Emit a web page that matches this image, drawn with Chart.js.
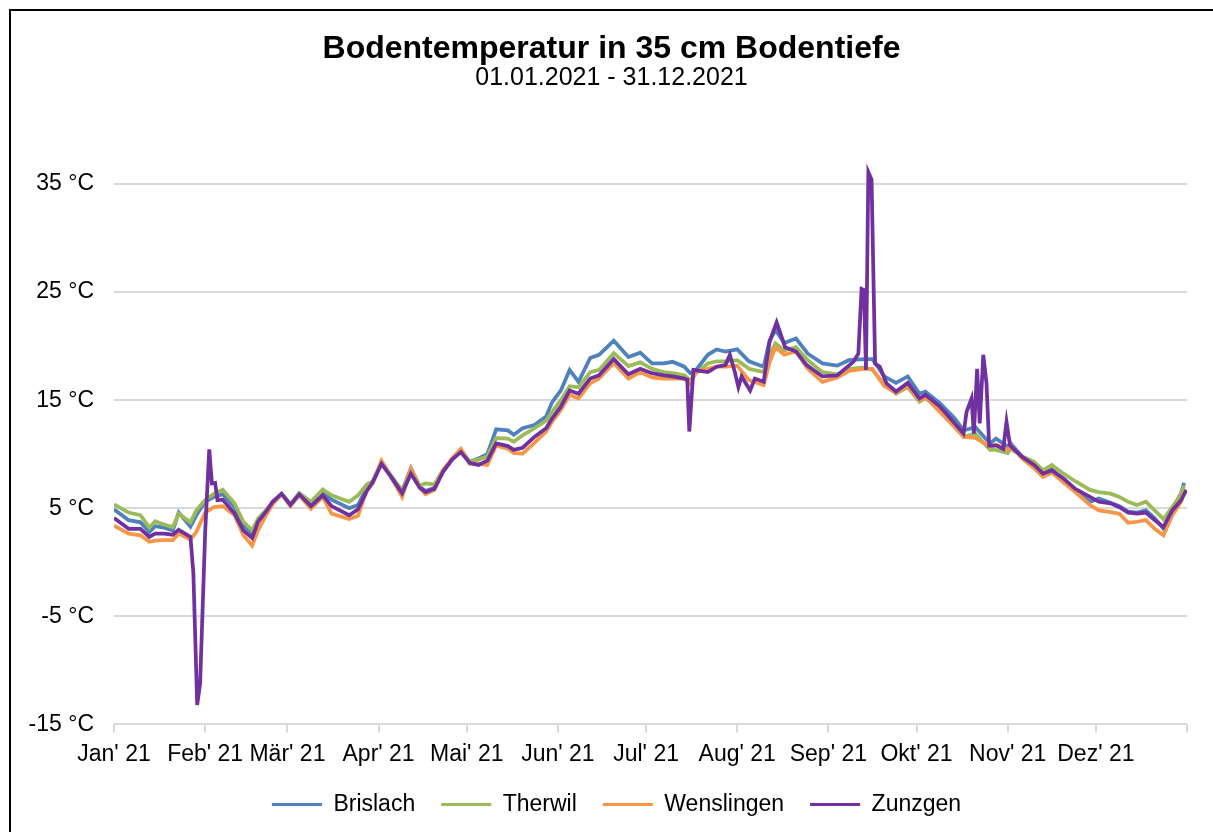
<!DOCTYPE html>
<html lang="de">
<head>
  <meta charset="UTF-8" />
  <title>Bodentemperatur in 35 cm Bodentiefe</title>
  <script src="https://cdn.jsdelivr.net/npm/chart.js"></script>
  <style>
    html, body { margin: 0; padding: 0; background: #fff; overflow: hidden; }
    #wrap { position: relative; width: 1213px; height: 832px; }
    #frame {
      position: absolute; left: 9px; top: 9px;
      width: 1300px; height: 900px;
      border: 2px solid #000; pointer-events: none;
    }
  </style>
</head>
<body>
<div id="wrap">
  <canvas id="chart" width="1213" height="832"></canvas>
  <div id="frame"></div>
</div>
<script>
  // day of year (0 = 1 Jan 2021)
  const days = [0,5,9,12,14,17,20,22,26,28,
    31,34,37,41,44,47,49,52,54,57,
    60,63,67,71,74,80,83,86,88,91,
    94,98,101,104,106,109,112,115,118,121,
    124,127,130,134,136,139,143,147,149,152,
    155,158,162,165,170,175,179,183,187,190,
    194,196,198,202,205,208,212,216,221,223,
    225,228,232,236,241,246,250,255,258,262,
    266,270,274,276,281,286,289,293,298,300,
    304,305,309,313,316,319,323,327,332,335,
    339,342,345,348,351,354,357,360,363,364];

  const brislach = [4.9,3.9,3.7,2.8,3.35,3.2,2.95,4.6,3.3,4.35,
    5.6,6.05,6.3,5.1,3.45,2.65,3.9,4.8,5.6,6.3,
    5.4,6.3,5.3,6.4,5.8,5.0,5.3,6.9,7.4,9.3,
    8.1,6.6,8.7,7.0,6.6,6.9,8.5,9.5,10.4,9.3,
    9.6,10.0,12.3,12.2,11.8,12.4,12.7,13.5,14.8,15.9,
    17.8,16.7,18.9,19.2,20.5,19.0,19.4,18.4,18.4,18.55,
    18.1,17.5,17.8,19.2,19.7,19.5,19.7,18.6,18.1,20.5,
    21.5,20.3,20.7,19.3,18.4,18.2,18.7,18.8,18.8,17.2,
    16.6,17.2,15.6,15.8,14.7,13.3,12.2,12.5,11.0,11.45,
    10.7,11.0,9.75,9.0,8.2,8.6,7.6,6.6,5.6,5.9,
    5.5,5.2,4.7,4.6,4.8,4.1,3.1,4.9,6.4,7.35];

  const therwil = [5.35,4.6,4.35,3.2,3.8,3.5,3.25,4.5,3.7,4.8,
    5.75,6.35,6.7,5.45,3.75,2.95,4.05,4.9,5.6,6.35,
    5.4,6.4,5.6,6.75,6.2,5.6,6.2,7.2,7.5,9.3,
    8.1,6.6,8.6,7.1,7.3,7.2,8.6,9.5,10.4,9.3,
    9.5,9.8,11.5,11.45,11.15,11.75,12.4,13.1,13.9,15.0,
    16.3,16.2,17.6,17.8,19.35,18.15,18.5,17.9,17.6,17.5,
    17.3,16.85,17.5,18.4,18.6,18.6,18.7,17.9,17.6,19.2,
    20.25,19.6,19.9,18.7,17.6,17.4,17.9,18.0,17.8,16.5,
    15.6,16.2,14.85,15.2,14.1,12.9,11.6,11.9,10.4,10.4,
    10.1,10.5,9.8,9.3,8.5,9.0,8.2,7.5,6.7,6.5,
    6.35,6.05,5.6,5.3,5.6,4.8,4.0,5.1,6.3,7.1];

  const wenslingen = [3.4,2.65,2.5,1.9,2.0,2.05,2.05,2.65,2.1,2.8,
    4.6,5.1,5.2,4.35,2.5,1.55,2.95,4.5,5.4,6.3,
    5.2,6.2,4.95,6.05,4.5,4.0,4.3,6.7,7.3,9.4,
    8.0,6.05,8.6,6.9,6.3,6.7,8.5,9.6,10.5,9.1,
    9.1,9.0,10.8,10.5,10.1,10.05,11.05,12.1,13.0,14.1,
    15.5,15.15,16.55,17.0,18.45,17.0,17.6,17.1,17.0,17.0,
    17.0,16.5,17.6,17.9,18.1,18.1,18.2,16.85,16.4,18.5,
    19.9,19.2,19.5,17.9,16.7,17.1,17.7,17.9,17.9,16.3,
    15.7,16.3,15.0,15.3,13.9,12.5,11.6,11.5,10.7,10.9,
    10.4,10.8,9.6,8.7,7.9,8.3,7.4,6.5,5.3,4.8,
    4.65,4.5,3.65,3.75,3.9,3.1,2.5,4.35,5.6,6.6];

  // Zunzgen has its own sampling because of the sensor spikes
  const zunzgenDays = [0,5,9,12,14,17,20,22,26,27,
    28.3,29.3,31,32.4,33.3,34.4,35.2,37,41,44,
    47,49,52,54,57,60,63,67,71,74,
    80,83,86,88,91,94,98,101,104,106,
    109,112,115,118,121,124,127,130,134,136,
    139,143,147,149,152,155,158,162,165,170,
    175,179,183,187,190,194,195,195.7,197.1,202,
    205,208,209.5,211,212.4,213.5,216.4,218,221,223,
    225.4,228.3,232,235.6,241,246,251.5,253.2,254.3,255.1,
    255.8,256.6,257.7,258.9,260.5,262.8,266,270,274,276,
    281,285.5,289,290,291.7,292.5,293.6,294.5,295.7,296.8,
    297.7,300.2,302.5,303.6,304.8,309,313,316,319,323,
    327,332,335,339,342,345,348,351,354,357,
    360,363,364.8];

  const zunzgen = [4.1,3.1,3.1,2.35,2.65,2.65,2.55,3.0,2.35,-1.0,
    -13.2,-11.2,2.7,10.45,7.3,7.35,5.75,5.8,4.5,2.95,
    2.25,3.75,4.8,5.6,6.35,5.3,6.3,5.2,6.2,5.2,
    4.35,4.9,6.6,7.4,9.1,8.0,6.4,8.2,6.9,6.5,
    6.8,8.4,9.5,10.2,9.2,9.0,9.4,11.0,10.75,10.4,
    10.6,11.6,12.4,13.3,14.4,15.9,15.6,17.0,17.3,18.8,
    17.4,17.9,17.5,17.3,17.2,17.0,16.9,12.1,17.8,17.6,
    18.1,18.25,19.2,17.8,16.2,17.2,15.9,17.0,16.7,20.4,
    22.2,19.9,19.5,18.25,17.2,17.3,18.55,19.3,25.3,25.2,
    17.8,36.1,35.4,18.4,18.1,16.55,15.8,16.6,15.15,15.5,
    14.4,13.0,11.9,13.9,15.15,11.9,17.9,12.85,19.2,16.55,
    10.8,10.8,10.5,13.0,10.8,9.75,9.0,8.2,8.5,7.75,
    6.8,6.05,5.6,5.45,5.1,4.6,4.5,4.6,3.9,3.25,
    4.8,5.75,6.7];

  const monthStarts = [0,31,59,90,120,151,181,212,243,273,304,334,365];
  const monthLabels = ["Jan' 21","Feb' 21","Mär' 21","Apr' 21","Mai' 21","Jun' 21",
    "Jul' 21","Aug' 21","Sep' 21","Okt' 21","Nov' 21","Dez' 21",""];
  const yTicks = [-15,-5,5,15,25,35];

  function series(label, xs, ys, color, order) {
    return {
      label: label,
      data: xs.map((d, i) => ({ x: d, y: ys[i] })),
      borderColor: color,
      backgroundColor: color,
      order: order
    };
  }

  // title block and legend sit a bit right of the canvas centre in the original
  const boxShift = {
    id: 'boxShift',
    afterLayout(chart) {
      chart.boxes.forEach(b => {
        if (b.position === 'top') { b.left += 18; b.right += 18; }
      });
      chart.legend.left += 23;
      chart.legend.right += 23;
    }
  };

  Chart.defaults.font.family = "'Liberation Sans', Arial, sans-serif";
  Chart.defaults.color = '#000';

  new Chart(document.getElementById('chart'), {
    type: 'line',
    data: {
      datasets: [
        series('Brislach', days, brislach, '#4f81bd', 4),
        series('Therwil', days, therwil, '#9bbb59', 3),
        series('Wenslingen', days, wenslingen, '#f79646', 2),
        series('Zunzgen', zunzgenDays, zunzgen, '#7030a0', 1)
      ]
    },
    plugins: [boxShift],
    options: {
      responsive: false,
      animation: false,
      devicePixelRatio: 1,
      layout: { padding: { left: 0, right: 26, top: 0, bottom: 6 } },
      elements: {
        point: { radius: 0 },
        line: { borderWidth: 3.75, tension: 0 }
      },
      plugins: {
        title: {
          display: true,
          text: 'Bodentemperatur in 35 cm Bodentiefe',
          font: { size: 32, weight: 'bold', lineHeight: 1 },
          padding: { top: 33, bottom: 0 }
        },
        subtitle: {
          display: true,
          text: '01.01.2021 - 31.12.2021',
          font: { size: 25, lineHeight: 1 },
          padding: { top: 1, bottom: 39 }
        },
        legend: {
          position: 'bottom',
          labels: {
            boxWidth: 50,
            boxHeight: 3,
            padding: 26,
            font: { size: 23 },
            sort: (a, b) => a.datasetIndex - b.datasetIndex,
            generateLabels: chart =>
              Chart.defaults.plugins.legend.labels.generateLabels(chart)
                .map(l => Object.assign(l, { lineWidth: 0, fillStyle: l.strokeStyle }))
          }
        },
        tooltip: { enabled: false }
      },
      scales: {
        x: {
          type: 'linear',
          min: 0,
          max: 365,
          afterBuildTicks: s => { s.ticks = monthStarts.map(v => ({ value: v })); },
          afterFit: s => { s.height -= 9; },
          ticks: {
            autoSkip: false,
            maxRotation: 0,
            padding: 8,
            font: { size: 23 },
            callback: v => monthLabels[monthStarts.indexOf(v)]
          },
          grid: { drawOnChartArea: false, tickLength: 8, color: '#d9d9d9', lineWidth: 2 },
          border: { display: false }
        },
        y: {
          min: -15,
          max: 40,
          afterBuildTicks: s => { s.ticks = yTicks.map(v => ({ value: v })); },
          afterFit: s => { s.width = 114; },
          ticks: {
            padding: 20,
            font: { size: 23 },
            callback: v => v + ' °C'
          },
          grid: { color: '#d9d9d9', lineWidth: 2, drawTicks: false },
          border: { display: false }
        }
      }
    }
  });
</script>
</body>
</html>
